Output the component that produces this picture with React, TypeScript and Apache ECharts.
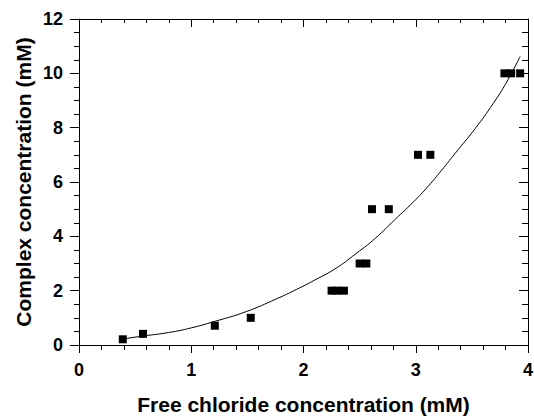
import React, { useEffect, useRef } from "react";
import * as echarts from "echarts";

// Measured points (free chloride mM, complex mM)
const pointX = [0.39, 0.57, 1.21, 1.53, 2.25, 2.3, 2.36, 2.5, 2.56, 2.61, 2.76, 3.02, 3.13, 3.79, 3.85, 3.93];
const pointY = [0.21, 0.41, 0.71, 1.0, 2, 2, 2, 3, 3, 5, 5, 7, 7, 10, 10, 10];

// Fitted curve
const curveX = [0.37, 0.57, 0.8, 1.0, 1.21, 1.49, 1.76, 1.94, 2.1, 2.28, 2.47, 2.64, 2.81, 2.98, 3.11, 3.23, 3.35, 3.53, 3.69, 3.81, 3.93];
const curveY = [0.21, 0.33, 0.46, 0.63, 0.87, 1.23, 1.7, 2.05, 2.39, 2.8, 3.37, 3.93, 4.6, 5.27, 5.84, 6.43, 7.05, 7.97, 8.89, 9.68, 10.62];

const xTitle = "Free chloride concentration (mM)";
const yTitle = "Complex concentration (mM)";

const TICK_FONT = "'Liberation Sans Narrow', 'Liberation Sans', Arial, sans-serif";
const TITLE_FONT = "'Liberation Sans', Arial, sans-serif";

export default function App() {
  const ref = useRef<HTMLDivElement>(null);
  useEffect(() => {
    if (!ref.current) return;
    const chart = echarts.init(ref.current, null, { renderer: "svg" });
    const lineStyle = { color: "#000", width: 1 };
    const baseX = {
      type: "value" as const,
      min: 0,
      max: 4,
      interval: 1,
      splitLine: { show: false },
      axisLine: { show: true, onZero: false, lineStyle },
    };
    const baseY = {
      type: "value" as const,
      min: 0,
      max: 12,
      interval: 2,
      splitLine: { show: false },
      axisLine: { show: true, onZero: false, lineStyle },
    };
    chart.setOption({
      animation: false,
      backgroundColor: "#fff",
      grid: { left: 79, right: 6, top: 19, bottom: 71, containLabel: false, outerBoundsMode: "none" },
      xAxis: [
        {
          ...baseX,
          position: "bottom",
          name: xTitle,
          nameLocation: "middle",
          nameGap: 49,
          nameMoveOverlap: false,
          nameTextStyle: { fontFamily: TITLE_FONT, fontWeight: "bold", fontSize: 21, color: "#000" },
          axisTick: { show: true, inside: false, length: 8, lineStyle },
          minorTick: { show: true, splitNumber: 5, length: 5, lineStyle },
          axisLabel: { show: true, margin: 16, fontFamily: TICK_FONT, fontWeight: "bold", fontSize: 18, color: "#000" },
        },
        {
          ...baseX,
          position: "top",
          axisTick: { show: true, inside: true, length: 8, lineStyle },
          minorTick: { show: true, splitNumber: 5, length: 4, lineStyle },
          axisLabel: { show: false },
        },
      ],
      yAxis: [
        {
          ...baseY,
          position: "left",
          name: yTitle,
          nameLocation: "middle",
          nameGap: 45,
          nameMoveOverlap: false,
          nameTextStyle: { fontFamily: TITLE_FONT, fontWeight: "bold", fontSize: 21, color: "#000" },
          axisTick: { show: true, inside: false, length: 9, lineStyle },
          minorTick: { show: true, splitNumber: 4, length: 5, lineStyle },
          axisLabel: { show: true, margin: 16, fontFamily: TICK_FONT, fontWeight: "bold", fontSize: 18, color: "#000" },
        },
        {
          ...baseY,
          position: "right",
          axisTick: { show: true, inside: true, length: 9, lineStyle },
          minorTick: { show: true, splitNumber: 4, length: 6, lineStyle },
          axisLabel: { show: false },
        },
      ],
      series: [
        {
          type: "line",
          xAxisIndex: 0,
          yAxisIndex: 0,
          data: curveX.map((x, i) => [x, curveY[i]]),
          smooth: 0.5,
          showSymbol: false,
          symbol: "none",
          lineStyle: { color: "#000", width: 1 },
          z: 2,
        },
        {
          type: "scatter",
          xAxisIndex: 0,
          yAxisIndex: 0,
          data: pointX.map((x, i) => [x, pointY[i]]),
          symbol: "rect",
          symbolSize: 8,
          itemStyle: { color: "#000", opacity: 1 },
          z: 3,
        },
      ],
    });
    return () => chart.dispose();
  }, []);
  return (
    <div
      ref={ref}
      style={{ position: "fixed", left: 0, top: 0, width: 534, height: 416, background: "#fff" }}
    />
  );
}
